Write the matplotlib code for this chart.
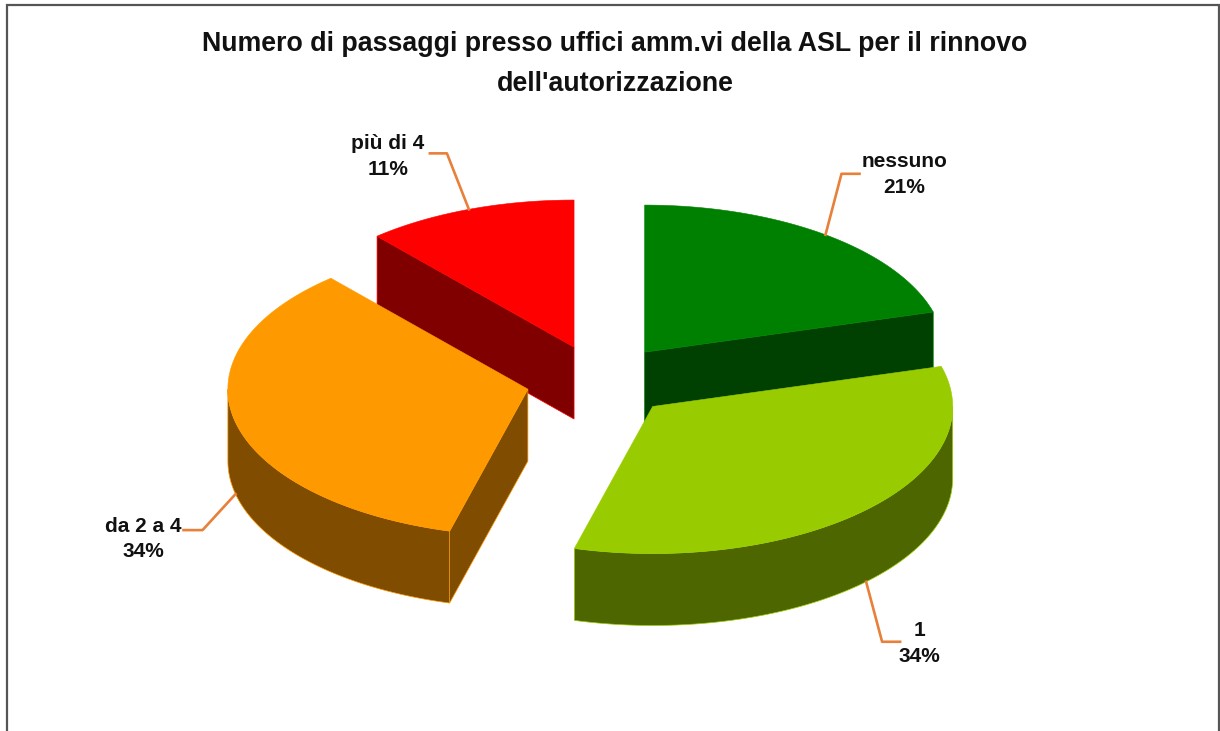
import numpy as np
import matplotlib
matplotlib.use("Agg")
import matplotlib.pyplot as plt
from matplotlib.patches import Polygon

TITLE = "Numero di passaggi presso uffici amm.vi della ASL per il rinnovo\ndell'autorizzazione"
categories = ["nessuno", "1", "da 2 a 4", "più di 4"]
shares = [20.6, 33.6, 34.4, 11.4]
top_colors = ["#008000", "#99CC00", "#FF9900", "#FF0000"]
wall_colors = ["#004000", "#4D6600", "#804D00", "#800000"]
leader_color = "#E8803A"

# Pie geometry in pixel units of the canvas
CX, CY = 600, 381
RADIUS = 300
SQUASH = 0.49
EXPLODE = 74
DEPTH = 72

# Leader elbows and label anchors, relative to the rim point of each slice
leader_elbow = [(16, -61), (16, 60), (-33, 36), (-22, -56)]
leader_tail = [(34, -61), (34, 60), (-52, 36), (-39, -56)]
label_offset = [(79, -60), (53, 62), (-92, 45), (-81, -53)]


def project(theta_deg, radius):
    """Screen offset of a polar point, angle clockwise from twelve o'clock."""
    t = np.radians(theta_deg)
    return radius * np.sin(t), -radius * SQUASH * np.cos(t)


fig = plt.figure(figsize=(12.2, 7.31), dpi=100)
ax = fig.add_axes([0, 0, 1, 1])
ax.set_xlim(0, 1220)
ax.set_ylim(731, 0)
ax.axis("off")

# Open frame: left, top and right sides only
ax.plot([6.5, 6.5, 1219, 1219], [731, 5, 5, 731], color="#555555", lw=1.6, solid_joinstyle="miter")

ax.text(615, 64, TITLE, ha="center", va="center", fontsize=19.3, fontweight="bold",
        family="Liberation Sans", color="#111111", linespacing=1.7)

total = sum(shares)
edges = np.concatenate([[0], np.cumsum(shares)]) / total * 360
mid_angles = (edges[:-1] + edges[1:]) / 2


def draw_slice(i, layer):
    a0, a1 = edges[i], edges[i + 1]
    mid = mid_angles[i]
    ex, ey = project(mid, EXPLODE)
    ox, oy = CX + ex, CY + ey

    def rim(theta):
        dx, dy = project(theta, RADIUS)
        return ox + dx, oy + dy

    # Flat cut faces that look toward the viewer
    for theta, normal in ((a0, a0 - 90), (a1, a1 + 90)):
        if -np.cos(np.radians(normal)) > 1e-6:
            x, y = rim(theta)
            quad = [(ox, oy), (x, y), (x, y + DEPTH), (ox, oy + DEPTH)]
            ax.add_patch(Polygon(quad, closed=True, fc=wall_colors[i], ec=top_colors[i], lw=0.5, zorder=layer))

    # Curved outer wall along the front half of the rim
    lo, hi = max(a0, 90), min(a1, 270)
    if lo < hi:
        arc = np.linspace(lo, hi, 120)
        upper = [rim(t) for t in arc]
        lower = [(x, y + DEPTH) for x, y in reversed(upper)]
        ax.add_patch(Polygon(upper + lower, closed=True, fc=wall_colors[i], ec=top_colors[i], lw=0.5, zorder=layer))

    # Top surface
    arc = np.linspace(a0, a1, 160)
    top = [(ox, oy)] + [rim(t) for t in arc]
    ax.add_patch(Polygon(top, closed=True, fc=top_colors[i], ec=top_colors[i], lw=0.4, zorder=layer))

    # Leader line from the rim out to the label
    px, py = rim(mid)
    if 90 < mid < 270:
        py += DEPTH
    ex1, ey1 = leader_elbow[i]
    ex2, ey2 = leader_tail[i]
    ax.plot([px, px + ex1, px + ex2], [py, py + ey1, py + ey2], color=leader_color, lw=1.9, zorder=10)

    lx, ly = label_offset[i]
    ax.text(px + lx, py + ly, f"{categories[i]}\n{shares[i]:.0f}%", ha="center", va="center",
            fontsize=15, fontweight="bold", family="Liberation Sans", color="#111111",
            linespacing=1.45, zorder=11)


# Painted from the back of the pie to the front
for layer, i in enumerate((3, 0, 2, 1), start=3):
    draw_slice(i, layer)

fig.savefig("out.png", dpi=100, facecolor="white")
